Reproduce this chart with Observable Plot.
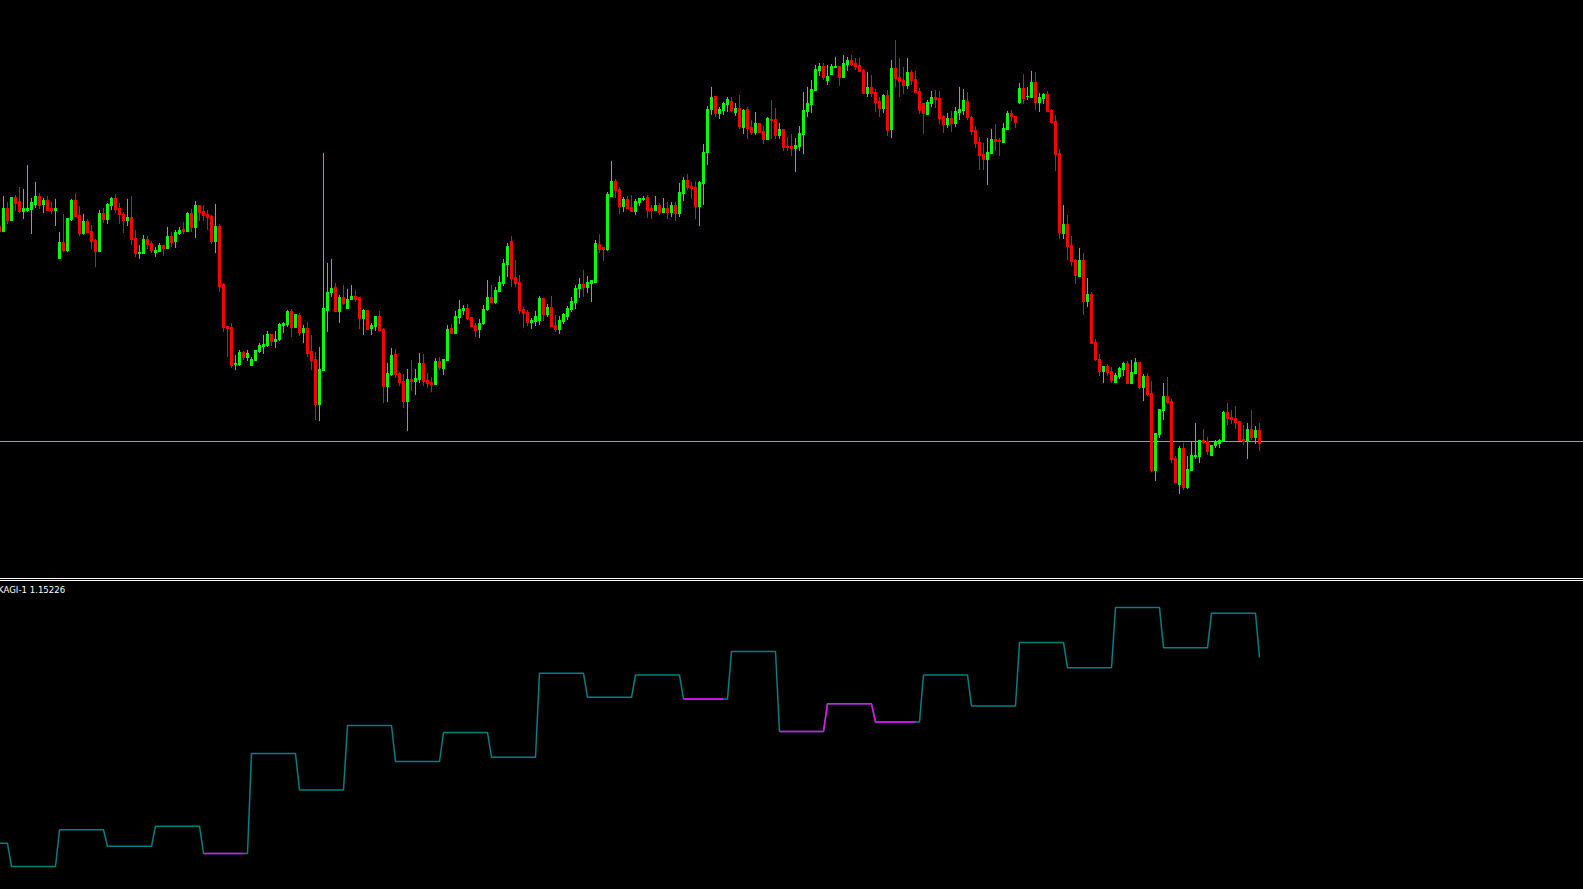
<!DOCTYPE html>
<html><head><meta charset="utf-8">
<script src="https://cdn.jsdelivr.net/npm/d3@7"></script>
<script src="https://cdn.jsdelivr.net/npm/@observablehq/plot@0.6"></script>
<style>
html,body{margin:0;padding:0;background:#000;width:1583px;height:889px;overflow:hidden}
#top,#bot{position:absolute;left:0}
#top{top:0}
#bot{top:581px}
.sep{position:absolute;left:0;width:1583px;height:1px;background:#fff}
#label{position:absolute;left:-2px;top:583.5px;font-family:"DejaVu Sans";font-size:8.6px;line-height:12px;color:#fff;white-space:nowrap}
</style></head><body>
<div id="top"></div>
<div class="sep" style="top:578px"></div>
<div class="sep" style="top:580px"></div>
<div id="bot"></div>
<div id="label"></div>
<script>
// ---- price candles (bar numbers start at -1, the bar cut by the left edge) ----
const firstBar = -1;
const open = [1.1774,
1.1769,1.1792,1.1780,1.1803,1.1799,1.1789,1.1790,1.1791,1.1796,1.1804,
1.1796,1.1800,1.1792,1.1790,1.1742,1.1758,1.1750,1.1781,1.1800,1.1785,
1.1767,1.1779,1.1769,1.1760,1.1749,1.1787,1.1781,1.1795,1.1802,1.1792,
1.1786,1.1780,1.1783,1.1762,1.1747,1.1747,1.1761,1.1757,1.1748,1.1749,
1.1755,1.1752,1.1764,1.1759,1.1767,1.1771,1.1769,1.1787,1.1773,1.1795,
1.1789,1.1786,1.1784,1.1759,1.1774,1.1716,1.1674,1.1673,1.1636,1.1636,
1.1648,1.1643,1.1635,1.1640,1.1649,1.1654,1.1655,1.1666,1.1659,1.1661,
1.1675,1.1676,1.1689,1.1673,1.1685,1.1668,1.1672,1.1649,1.1641,1.1596,
1.1630,1.1690,1.1708,1.1713,1.1689,1.1703,1.1692,1.1701,1.1704,1.1703,
1.1682,1.1690,1.1672,1.1674,1.1684,1.1671,1.1614,1.1626,1.1646,1.1627,
1.1619,1.1599,1.1621,1.1619,1.1621,1.1637,1.1620,1.1618,1.1616,1.1639,
1.1632,1.1640,1.1672,1.1667,1.1683,1.1690,1.1692,1.1683,1.1675,1.1671,
1.1677,1.1691,1.1703,1.1698,1.1709,1.1717,1.1736,1.1759,1.1723,1.1718,
1.1691,1.1688,1.1678,1.1679,1.1680,1.1702,1.1686,1.1693,1.1675,1.1671,
1.1679,1.1684,1.1691,1.1698,1.1712,1.1716,1.1713,1.1717,1.1718,1.1756,
1.1753,1.1751,1.1804,1.1819,1.1811,1.1794,1.1801,1.1793,1.1789,1.1798,
1.1801,1.1803,1.1792,1.1790,1.1795,1.1788,1.1792,1.1788,1.1795,1.1787,
1.1807,1.1820,1.1814,1.1813,1.1794,1.1817,1.1848,1.1891,1.1904,1.1887,
1.1890,1.1896,1.1899,1.1888,1.1892,1.1873,1.1891,1.1873,1.1868,1.1877,
1.1869,1.1861,1.1881,1.1881,1.1865,1.1871,1.1854,1.1854,1.1852,1.1854,
1.1866,1.1889,1.1896,1.1910,1.1930,1.1934,1.1920,1.1926,1.1933,1.1934,
1.1923,1.1936,1.1940,1.1937,1.1935,1.1930,1.1907,1.1913,1.1908,1.1899,
1.1892,1.1905,1.1871,1.1932,1.1923,1.1920,1.1915,1.1928,1.1921,1.1909,
1.1897,1.1886,1.1897,1.1903,1.1902,1.1884,1.1876,1.1882,1.1877,1.1888,
1.1890,1.1899,1.1883,1.1870,1.1858,1.1846,1.1841,1.1847,1.1861,1.1860,
1.1858,1.1871,1.1887,1.1884,1.1898,1.1912,1.1904,1.1903,1.1918,1.1898,
1.1902,1.1906,1.1890,1.1879,1.1847,1.1767,1.1776,1.1755,1.1740,1.1724,
1.1740,1.1699,1.1706,1.1658,1.1641,1.1629,1.1634,1.1629,1.1618,1.1624,
1.1631,1.1637,1.1617,1.1627,1.1638,1.1613,1.1624,1.1607,1.1530,1.1566,
1.1590,1.1604,1.1599,1.1542,1.1516,1.1552,1.1513,1.1530,1.1544,1.1544,
1.1560,1.1559,1.1545,1.1555,1.1557,1.1560,1.1588,1.1583,1.1582,1.1579,
1.1561,1.1559,1.1571,1.1563,1.1570];

const high = [1.1776,
1.1804,1.1798,1.1803,1.1805,1.1813,1.1811,1.1835,1.1802,1.1818,1.1807,
1.1802,1.1804,1.1798,1.1801,1.1768,1.1786,1.1782,1.1801,1.1807,1.1794,
1.1786,1.1781,1.1775,1.1761,1.1790,1.1792,1.1797,1.1803,1.1806,1.1797,
1.1788,1.1801,1.1804,1.1770,1.1755,1.1765,1.1764,1.1759,1.1753,1.1757,
1.1755,1.1773,1.1768,1.1770,1.1773,1.1778,1.1788,1.1791,1.1799,1.1795,
1.1795,1.1790,1.1785,1.1796,1.1776,1.1717,1.1674,1.1677,1.1645,1.1650,
1.1649,1.1650,1.1643,1.1650,1.1657,1.1665,1.1669,1.1666,1.1669,1.1677,
1.1678,1.1690,1.1691,1.1686,1.1687,1.1675,1.1678,1.1665,1.1648,1.1653,
1.1847,1.1737,1.1741,1.1717,1.1705,1.1715,1.1711,1.1715,1.1710,1.1703,
1.1691,1.1690,1.1677,1.1684,1.1689,1.1672,1.1637,1.1652,1.1651,1.1628,
1.1626,1.1631,1.1640,1.1631,1.1647,1.1646,1.1627,1.1623,1.1642,1.1643,
1.1641,1.1675,1.1676,1.1689,1.1700,1.1695,1.1696,1.1683,1.1677,1.1681,
1.1695,1.1720,1.1715,1.1713,1.1724,1.1741,1.1757,1.1764,1.1740,1.1725,
1.1693,1.1690,1.1682,1.1689,1.1704,1.1702,1.1696,1.1704,1.1685,1.1684,
1.1687,1.1694,1.1703,1.1715,1.1722,1.1730,1.1724,1.1720,1.1760,1.1766,
1.1753,1.1808,1.1839,1.1821,1.1813,1.1803,1.1804,1.1805,1.1801,1.1802,
1.1804,1.1805,1.1795,1.1804,1.1797,1.1802,1.1798,1.1798,1.1798,1.1817,
1.1823,1.1826,1.1818,1.1819,1.1819,1.1856,1.1894,1.1913,1.1904,1.1893,
1.1898,1.1903,1.1903,1.1897,1.1905,1.1891,1.1893,1.1880,1.1888,1.1877,
1.1874,1.1883,1.1900,1.1892,1.1877,1.1871,1.1863,1.1866,1.1862,1.1874,
1.1908,1.1913,1.1920,1.1935,1.1937,1.1937,1.1935,1.1936,1.1943,1.1934,
1.1945,1.1943,1.1945,1.1942,1.1942,1.1931,1.1928,1.1925,1.1911,1.1903,
1.1906,1.1910,1.1940,1.1960,1.1942,1.1933,1.1942,1.1930,1.1929,1.1912,
1.1897,1.1900,1.1909,1.1910,1.1909,1.1885,1.1887,1.1889,1.1893,1.1913,
1.1911,1.1908,1.1884,1.1874,1.1863,1.1857,1.1862,1.1871,1.1876,1.1862,
1.1877,1.1889,1.1890,1.1884,1.1917,1.1926,1.1913,1.1929,1.1928,1.1907,
1.1907,1.1909,1.1891,1.1885,1.1851,1.1795,1.1785,1.1764,1.1741,1.1752,
1.1747,1.1722,1.1708,1.1661,1.1646,1.1634,1.1636,1.1633,1.1627,1.1633,
1.1638,1.1639,1.1640,1.1642,1.1638,1.1626,1.1627,1.1619,1.1567,1.1591,
1.1617,1.1623,1.1601,1.1544,1.1554,1.1557,1.1544,1.1558,1.1577,1.1560,
1.1571,1.1563,1.1555,1.1560,1.1561,1.1589,1.1597,1.1590,1.1594,1.1579,
1.1575,1.1577,1.1590,1.1574,1.1577];

const low = [1.1767,
1.1769,1.1776,1.1779,1.1789,1.1787,1.1781,1.1788,1.1766,1.1792,1.1791,
1.1787,1.1790,1.1786,1.1774,1.1742,1.1748,1.1748,1.1779,1.1783,1.1764,
1.1765,1.1768,1.1751,1.1733,1.1748,1.1777,1.1776,1.1790,1.1787,1.1776,
1.1767,1.1774,1.1755,1.1743,1.1741,1.1747,1.1751,1.1747,1.1743,1.1749,
1.1744,1.1751,1.1753,1.1752,1.1765,1.1766,1.1769,1.1768,1.1762,1.1779,
1.1779,1.1770,1.1756,1.1747,1.1708,1.1668,1.1643,1.1632,1.1630,1.1634,
1.1640,1.1639,1.1635,1.1640,1.1647,1.1646,1.1653,1.1654,1.1652,1.1659,
1.1667,1.1673,1.1663,1.1672,1.1664,1.1657,1.1643,1.1630,1.1580,1.1579,
1.1630,1.1668,1.1703,1.1688,1.1677,1.1695,1.1691,1.1700,1.1698,1.1671,
1.1665,1.1670,1.1665,1.1669,1.1670,1.1597,1.1598,1.1624,1.1622,1.1614,
1.1592,1.1569,1.1609,1.1605,1.1617,1.1614,1.1612,1.1608,1.1615,1.1630,
1.1625,1.1639,1.1667,1.1666,1.1676,1.1685,1.1680,1.1673,1.1663,1.1662,
1.1675,1.1689,1.1698,1.1696,1.1708,1.1714,1.1723,1.1713,1.1713,1.1686,
1.1672,1.1674,1.1671,1.1674,1.1675,1.1679,1.1683,1.1674,1.1668,1.1666,
1.1676,1.1680,1.1688,1.1691,1.1702,1.1703,1.1707,1.1698,1.1717,1.1747,
1.1739,1.1749,1.1803,1.1802,1.1786,1.1788,1.1792,1.1789,1.1785,1.1794,
1.1799,1.1782,1.1781,1.1790,1.1785,1.1787,1.1781,1.1783,1.1779,1.1783,
1.1799,1.1810,1.1801,1.1781,1.1774,1.1795,1.1835,1.1885,1.1883,1.1881,
1.1885,1.1888,1.1888,1.1884,1.1871,1.1866,1.1861,1.1865,1.1865,1.1867,
1.1856,1.1861,1.1861,1.1861,1.1861,1.1849,1.1849,1.1844,1.1828,1.1849,
1.1846,1.1883,1.1887,1.1910,1.1924,1.1920,1.1915,1.1925,1.1933,1.1914,
1.1922,1.1929,1.1934,1.1930,1.1928,1.1906,1.1903,1.1903,1.1888,1.1883,
1.1887,1.1864,1.1862,1.1913,1.1903,1.1906,1.1911,1.1915,1.1908,1.1886,
1.1866,1.1885,1.1893,1.1892,1.1876,1.1867,1.1872,1.1868,1.1873,1.1880,
1.1885,1.1880,1.1865,1.1852,1.1830,1.1830,1.1815,1.1847,1.1849,1.1844,
1.1858,1.1870,1.1879,1.1872,1.1896,1.1896,1.1900,1.1902,1.1890,1.1888,
1.1896,1.1888,1.1877,1.1829,1.1761,1.1761,1.1740,1.1734,1.1716,1.1723,
1.1685,1.1693,1.1656,1.1639,1.1624,1.1617,1.1624,1.1617,1.1618,1.1621,
1.1624,1.1616,1.1617,1.1627,1.1611,1.1599,1.1604,1.1528,1.1519,1.1562,
1.1580,1.1596,1.1537,1.1518,1.1506,1.1510,1.1511,1.1530,1.1541,1.1537,
1.1556,1.1545,1.1545,1.1552,1.1552,1.1559,1.1575,1.1576,1.1571,1.1559,
1.1555,1.1541,1.1560,1.1556,1.1549];

const close = [1.1768,
1.1792,1.1780,1.1803,1.1797,1.1789,1.1792,1.1792,1.1798,1.1804,1.1795,
1.1800,1.1790,1.1790,1.1792,1.1758,1.1750,1.1782,1.1800,1.1784,1.1767,
1.1779,1.1768,1.1759,1.1749,1.1787,1.1781,1.1796,1.1802,1.1791,1.1786,
1.1780,1.1783,1.1761,1.1747,1.1748,1.1761,1.1756,1.1750,1.1750,1.1755,
1.1752,1.1764,1.1758,1.1768,1.1770,1.1769,1.1787,1.1773,1.1795,1.1788,
1.1785,1.1783,1.1759,1.1774,1.1714,1.1673,1.1672,1.1635,1.1637,1.1648,
1.1643,1.1647,1.1641,1.1650,1.1655,1.1656,1.1666,1.1659,1.1661,1.1676,
1.1677,1.1689,1.1673,1.1686,1.1668,1.1672,1.1647,1.1640,1.1596,1.1631,
1.1692,1.1708,1.1712,1.1689,1.1703,1.1697,1.1701,1.1704,1.1701,1.1682,
1.1690,1.1671,1.1675,1.1684,1.1670,1.1614,1.1627,1.1645,1.1626,1.1618,
1.1599,1.1621,1.1619,1.1622,1.1637,1.1619,1.1617,1.1616,1.1639,1.1633,
1.1641,1.1671,1.1667,1.1684,1.1691,1.1692,1.1682,1.1674,1.1670,1.1677,
1.1691,1.1703,1.1698,1.1710,1.1718,1.1737,1.1754,1.1722,1.1717,1.1690,
1.1687,1.1678,1.1680,1.1684,1.1702,1.1686,1.1693,1.1674,1.1671,1.1680,
1.1686,1.1692,1.1699,1.1712,1.1716,1.1713,1.1718,1.1720,1.1757,1.1751,
1.1751,1.1806,1.1819,1.1810,1.1794,1.1801,1.1792,1.1789,1.1799,1.1802,
1.1802,1.1790,1.1790,1.1795,1.1788,1.1792,1.1788,1.1795,1.1787,1.1808,
1.1820,1.1813,1.1812,1.1794,1.1818,1.1848,1.1891,1.1903,1.1887,1.1891,
1.1897,1.1901,1.1890,1.1892,1.1874,1.1890,1.1872,1.1868,1.1877,1.1868,
1.1861,1.1882,1.1880,1.1865,1.1871,1.1853,1.1853,1.1852,1.1855,1.1867,
1.1890,1.1897,1.1911,1.1931,1.1934,1.1923,1.1924,1.1934,1.1934,1.1923,
1.1937,1.1940,1.1936,1.1934,1.1929,1.1907,1.1913,1.1907,1.1898,1.1892,
1.1905,1.1870,1.1932,1.1922,1.1919,1.1915,1.1928,1.1920,1.1908,1.1890,
1.1887,1.1898,1.1903,1.1901,1.1882,1.1876,1.1882,1.1877,1.1889,1.1891,
1.1900,1.1883,1.1869,1.1857,1.1845,1.1841,1.1848,1.1861,1.1859,1.1859,
1.1872,1.1887,1.1884,1.1878,1.1912,1.1902,1.1904,1.1918,1.1898,1.1903,
1.1906,1.1889,1.1878,1.1846,1.1768,1.1776,1.1754,1.1739,1.1725,1.1740,
1.1699,1.1706,1.1657,1.1641,1.1629,1.1634,1.1628,1.1620,1.1625,1.1632,
1.1637,1.1617,1.1628,1.1638,1.1613,1.1624,1.1606,1.1530,1.1567,1.1591,
1.1604,1.1598,1.1541,1.1518,1.1552,1.1513,1.1531,1.1545,1.1545,1.1560,
1.1558,1.1549,1.1555,1.1558,1.1560,1.1588,1.1582,1.1581,1.1578,1.1560,
1.1559,1.1571,1.1563,1.1570,1.1557];

const bidLine = 1.1559;

// ---- Kagi indicator: level and the bar where each level begins ----
const kagiStart = [-1, 2, 14, 26, 38, 50, 62, 74, 86, 98, 110, 122, 134, 146, 158, 170, 182, 194, 206, 218, 230, 242, 254, 266, 278, 290, 302, 314];
const kagiLevel = [1.13368, 1.13135, 1.13502, 1.13337, 1.13538, 1.13265, 1.14265, 1.13900, 1.14545, 1.14185, 1.14475, 1.14228, 1.15067, 1.14827, 1.15050, 1.14810, 1.15285, 1.14485, 1.14762, 1.14580, 1.15050, 1.14740, 1.15375, 1.15122, 1.15725, 1.15322, 1.15668, 1.15226];
const kagiThin = [[50, 60], [170, 180], [194, 228]];

const GREEN = "#00ff00", RED = "#ff0000", TEAL = "#008080", MAGENTA = "#ff00ff";

const candles = open.map((o, i) => ({bar: firstBar + i, o, h: high[i], l: low[i], c: close[i]}));
const ups = candles.filter(d => d.c >= d.o);
const downs = candles.filter(d => d.c < d.o);
const lastBar = firstBar + open.length - 1;

function candleMarks(data, color) {
  const common = {stroke: color, shapeRendering: "crispEdges"};
  return [
    Plot.ruleX(data, {x: "bar", y1: "l", y2: "h", strokeWidth: 1, ...common}),
    Plot.ruleX(data, {x: "bar", y1: "o", y2: "c", strokeWidth: 3, ...common}),
    Plot.ruleY(data, {y: "o", x1: d => d.bar - 0.375, x2: d => d.bar + 0.375, strokeWidth: 1, ...common}),
    Plot.ruleY(data, {y: "c", x1: d => d.bar - 0.375, x2: d => d.bar + 0.375, strokeWidth: 1, ...common})
  ];
}

const xScale = {domain: [-0.75, 395], axis: null};

const topPlot = Plot.plot({
  width: 1583, height: 578, margin: 0,
  x: xScale,
  y: {domain: [1.1422, 1.2], axis: null},
  style: {background: "#000"},
  marks: [
    Plot.ruleY([bidLine], {stroke: "#9a9aa2", strokeWidth: 1}),
    ...candleMarks(ups, GREEN),
    ...candleMarks(downs, RED)
  ]
});
document.getElementById("top").appendChild(topPlot);

// expand kagi levels to one value per bar
const kagi = [];
for (let b = firstBar; b <= lastBar; b++) {
  let j = 0;
  while (j + 1 < kagiStart.length && kagiStart[j + 1] <= b) j++;
  kagi.push({bar: b, v: kagiLevel[j]});
}
const thin = kagiThin.flatMap(([a, b], run) => kagi.filter(d => d.bar >= a && d.bar <= b).map(d => ({...d, run})));

const botPlot = Plot.plot({
  width: 1583, height: 308, margin: 0,
  x: xScale,
  y: {domain: [1.12905, 1.15985], axis: null},
  style: {background: "#000"},
  marks: [
    Plot.line(kagi, {x: "bar", y: "v", stroke: TEAL, strokeWidth: 1.5, strokeLinejoin: "miter", strokeLinecap: "butt"}),
    Plot.line(thin, {x: "bar", y: "v", z: "run", stroke: MAGENTA, strokeWidth: 1.5, strokeLinejoin: "miter", strokeLinecap: "butt"})
  ]
});
document.getElementById("bot").appendChild(botPlot);

document.getElementById("label").textContent = `KAGI-1 ${kagiLevel[kagiLevel.length - 1].toFixed(5)}`;
</script></body></html>
